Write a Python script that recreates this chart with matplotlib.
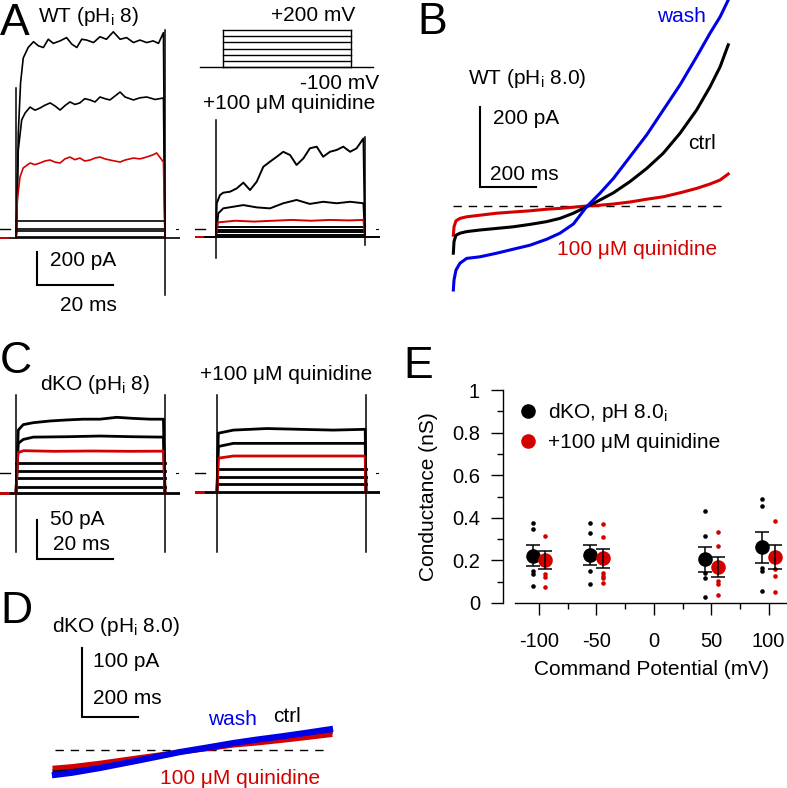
import matplotlib
matplotlib.use('Agg')
import matplotlib.pyplot as plt
from matplotlib.lines import Line2D
from matplotlib.ticker import FixedLocator, FixedFormatter, MultipleLocator

plt.rcParams['font.family'] = ['Liberation Sans', 'DejaVu Sans']
plt.rcParams['mathtext.fontset'] = 'custom'
plt.rcParams['mathtext.rm'] = 'Liberation Sans'
plt.rcParams['mathtext.it'] = 'Liberation Sans'
plt.rcParams['mathtext.default'] = 'regular'
plt.rcParams['axes.unicode_minus'] = False

W, H = 787, 788
RED = '#d40000'
BLUE = '#0000e6'
FS = 15

# ===========================
# data (ms, pA)
# ===========================
# A, WT control, step family
A1_top_t = [0.2, 0.6, 1.2, 1.9, 3.2, 4.6, 5.9, 7.2, 8.5, 9.8, 11.6, 13.3, 14.7, 16.0,
            17.3, 18.6, 20.4, 22.1, 23.8, 25.6, 27.4, 29.1, 30.9, 32.6, 34.4, 36.1, 37.5, 38.8]
A1_top_i = [-24, 580, 885, 1036, 1100, 1135, 1110, 1100, 1150, 1125, 1140, 1160, 1120, 1100,
            1150, 1145, 1130, 1165, 1150, 1195, 1150, 1160, 1130, 1145, 1130, 1140, 1125, 1190]
A1_mid_t = [0.6, 1.5, 2.4, 3.7, 5.0, 6.3, 7.6, 9.0, 10.3, 11.6, 12.9, 14.2, 15.5, 16.8,
            18.1, 19.5, 20.8, 22.1, 23.4, 24.7, 26.0, 27.4, 28.7, 30.9, 32.6, 34.4, 36.6, 38.8]
A1_mid_i = [479, 661, 703, 739, 720, 733, 750, 764, 745, 721, 748, 770, 755, 764,
            790, 782, 770, 800, 790, 782, 805, 830, 800, 782, 795, 800, 785, 794]
A1_red_t = [0.35, 1.05, 1.9, 3.7, 5.0, 6.3, 7.6, 8.95, 10.3, 11.6, 12.9, 14.2, 15.5, 16.8,
            18.1, 19.5, 20.8, 22.1, 23.4, 24.7, 26.0, 27.4, 28.7, 30.9, 32.6, 34.4, 36.1, 37.0, 38.8]
A1_red_i = [176, 315, 370, 400, 390, 400, 412, 418, 405, 400, 425, 436, 420, 430,
            412, 418, 430, 436, 425, 418, 412, 406, 418, 430, 425, 436, 450, 461, 406]
A1_low = [48, -2, -10, -50]
A1_hold = -55
A1_cap_on = [-55, 855]
A1_cap_off = [-400, 1206]

# A, WT + quinidine
A2_top_t = [0.2, 1.05, 1.9, 3.7, 5.45, 7.2, 8.95, 10.7, 12.45, 14.2, 16.0, 17.7, 19.5, 21.2,
            23.0, 24.7, 26.5, 28.2, 30.0, 31.75, 33.5, 35.3, 37.0, 38.8]
A2_top_i = [156, 206, 220, 226, 246, 281, 236, 286, 377, 408, 438, 468, 448, 388,
            428, 489, 499, 438, 468, 479, 499, 468, 489, 549]
A2_mid_t = [0.6, 1.9, 4.55, 7.2, 10.7, 14.2, 17.7, 21.2, 24.7, 28.2, 31.75, 35.3, 38.8]
A2_mid_i = [95, 125, 135, 145, 131, 125, 156, 176, 152, 165, 156, 165, 156]
A2_red_t = [0.5, 5, 10, 15, 20, 25, 30, 35, 38.8]
A2_red_i = [40, 50, 45, 50, 55, 50, 55, 52, 55]
A2_low = [12, -6, -18, -36]
A2_hold = -47
A2_cap_on = [-176, 660]
A2_cap_off = [-97, 558]

STEP_END = 39.2

# voltage protocol (mV)
P_levels = [-100, -50, 0, 50, 100, 150, 200]
P_hold = -100
P_on, P_off = 0, 40

# B, WT ramp (1 s)
B_t = [1.2, 3.6, 10.7, 25, 48.8, 96.4, 156, 215, 275, 335, 382, 430, 477, 525,
       573, 632, 692, 751, 811, 870, 918, 954, 983]
B_wash = [-210, -185, -160, -143, -131, -127, -118, -108, -98, -83, -68, -45, -2, 32,
          69, 123, 178, 240, 303, 373, 432, 473, 515]
B_ctrl = [-118, -89, -73, -68, -64, -60, -56, -52, -46, -39, -31, -18, -2, 15,
          33, 61, 94, 132, 182, 240, 298, 348, 403]
B_quin = [-73, -52, -37, -31, -27, -23, -18, -15, -12, -8, -6, -3, 0, 2,
          5, 10, 17, 23, 33, 44, 55, 65, 80]

# C, dKO step family
C1_top_t = [0.6, 1.9, 4.55, 8.95, 13.3, 17.7, 22.1, 26.5, 30.9, 35.3, 38.8]
C1_top_i = [55, 62, 64.5, 66.7, 68, 69, 69, 71.4, 70, 69, 69]
C1_mid_t = [0.6, 1.9, 4.55, 13.3, 22.1, 30.9, 38.8]
C1_mid_i = [38, 43, 46, 46.5, 47.4, 46.5, 46]
C1_red_t = [0.5, 2, 10, 20, 30, 38.8]
C1_red_i = [26, 28.6, 27.8, 28.2, 27.8, 28]
C1_low = [13, 3, -7, -17.5]
C1_hold = -26
C1_cap = [-101, 100]

C2_top_t = [0.35, 4.3, 13.1, 21.8, 30.6, 39.0]
C2_top_i = [51, 55, 57, 56, 55, 56]
C2_mid_t = [0.35, 4.3, 21.8, 39.0]
C2_mid_i = [34, 38, 38, 38]
C2_red_t = [0.35, 4.3, 21.8, 39.0]
C2_red_i = [19, 21.8, 21.8, 21.8]
C2_low = [4.7, -4.7, -14]
C2_hold = -24
C2_cap = [-101, 100]

# D, dKO ramp
D_t = [0, 60, 161, 300, 446, 550, 636, 720, 814, 900, 982]
D_wash = [-36, -33, -26, -15, -3, 4, 10, 15, 20, 25, 30]
D_ctrl = [-31, -28, -22, -13, -3, 3, 8, 12, 17, 21, 26]
D_quin = [-26, -24, -19, -11, -3, 2, 7, 10, 14, 18, 22]

# E, conductance (nS)
E_v = [-100, -50, 50, 100]
E_ctrl_mean = [0.221, 0.225, 0.206, 0.261]
E_ctrl_sem = [0.049, 0.046, 0.059, 0.071]
E_quin_mean = [0.202, 0.210, 0.167, 0.217]
E_quin_sem = [0.043, 0.045, 0.047, 0.057]
E_ctrl_cells = [[0.374, 0.347, 0.152, 0.135, 0.080],
                [0.374, 0.327, 0.150, 0.089],
                [0.433, 0.315, 0.139, 0.117, 0.027],
                [0.487, 0.457, 0.163, 0.150, 0.056]]
E_quin_cells = [[0.315, 0.136, 0.124, 0.074],
                [0.369, 0.308, 0.142, 0.128, 0.116, 0.092],
                [0.332, 0.268, 0.103, 0.089, 0.038],
                [0.385, 0.158, 0.128, 0.053]]
E_xticks = [-100, -50, 0, 50, 100]
E_yticks = [0, 0.2, 0.4, 0.6, 0.8, 1]
E_ylabels = ['0', '0.2', '0.4', '0.6', '0.8', '1']


fig = plt.figure(figsize=(W / 100, H / 100), dpi=100)


def px_axes(box, origin, sx, sy):
    # box in figure pixels (left, top, right, bottom); origin = pixel of (0, 0)
    l, t, r, b = box
    ax = fig.add_axes([l / W, 1 - b / H, (r - l) / W, (b - t) / H])
    ax.set_xlim((l - origin[0]) / sx, (r - origin[0]) / sx)
    ax.set_ylim((origin[1] - b) / sy, (origin[1] - t) / sy)
    ax.axis('off')
    return ax


def label(x, y, s, size=FS, **kw):
    # y = middle of the capital letters, in pixels from the top
    base = y + 0.358 * size * 100 / 72
    fig.text(x / W, 1 - base / H, s, fontsize=size, va='baseline', **kw)


def scale_bar(ax, t0, i0, dt, di):
    ax.plot([t0, t0, t0 + dt], [i0 + di, i0, i0], color='k', lw=1.5,
            solid_joinstyle='miter', clip_on=False)


def step_family(ax, tops, reds, low, hold, cap_on, cap_off, lw):
    t_lo, t_hi = ax.get_xlim()
    ax.plot([t_lo, t_hi], [hold, hold], color='k', lw=lw)
    ax.plot([t_lo, t_lo + 2.2], [hold, hold], color=RED, lw=lw)
    ax.plot([t_lo, t_lo + 2.6], [0, 0], color='k', lw=1)
    ax.plot([t_hi - 1.0, t_hi - 0.6], [0, 0], color='k', lw=0.8)
    for lev in low:
        ax.plot([0, STEP_END], [lev, lev], color='k', lw=lw)
    for t, i in tops:
        ax.plot([0] + t + [STEP_END], [hold] + i + [hold], color='k', lw=lw)
    for t, i in reds:
        ax.plot([0] + t + [STEP_END], [hold] + i + [hold], color=RED, lw=lw)
    ax.plot([0, 0], cap_on, color='k', lw=1.1)
    ax.plot([STEP_END, STEP_END], cap_off, color='k', lw=1.1)


# ===========================
# A
# ===========================
axA1 = px_axes((0, 0, 180, 300), (16, 229), 3.8, 0.165)
step_family(axA1, [(A1_top_t, A1_top_i), (A1_mid_t, A1_mid_i)], [(A1_red_t, A1_red_i)],
            A1_low, A1_hold, A1_cap_on, A1_cap_off, 1.2)
scale_bar(axA1, 5.5, -339, 20, 200)

axA2 = px_axes((195, 100, 380, 300), (216, 229), 3.8, 0.165)
step_family(axA2, [(A2_top_t, A2_top_i), (A2_mid_t, A2_mid_i)], [(A2_red_t, A2_red_i)],
            A2_low, A2_hold, A2_cap_on, A2_cap_off, 1.4)

axP = px_axes((195, 20, 380, 75), (223, 54.7), 3.2, 0.1233)
axP.plot([-7.2, 47], [P_hold, P_hold], color='k', lw=1)
for v in P_levels:
    axP.plot([P_on, P_off], [v, v], color='k', lw=1)
axP.plot([P_on, P_on], [P_hold, max(P_levels)], color='k', lw=1)
axP.plot([P_off, P_off], [P_hold, max(P_levels)], color='k', lw=1)

label(0, 19, 'A', size=32)
label(38, 15, 'WT (pH$_{i}$ 8)')
label(355, 14, '+200 mV', ha='right')
label(300, 82, '-100 mV')
label(203, 102, '+100 μM quinidine')
label(50, 259, '200 pA')
label(60, 304, '20 ms')

# ===========================
# B
# ===========================
axB = px_axes((440, 0, 740, 300), (453, 206), 0.28, 0.4)
axB.plot([0, 982], [0, 0], color='k', lw=1, ls=(0, (6, 5)))
axB.plot(B_t, B_quin, color=RED, lw=2.2)
axB.plot(B_t, B_ctrl, color='k', lw=2.2)
axB.plot(B_t, B_wash, color=BLUE, lw=2.2)
scale_bar(axB, 96.4, 47.5, 200, 200)

label(417, 18, 'B', size=32)
label(468, 77, 'WT (pH$_{i}$ 8.0)')
label(493, 117, '200 pA')
label(490, 173, '200 ms')
label(657, 15, 'wash', color=BLUE)
label(688, 142, 'ctrl')
label(557, 248, '100 μM quinidine', color=RED)

# ===========================
# C
# ===========================
axC1 = px_axes((0, 380, 180, 570), (16, 473), 3.8, 0.78)
step_family(axC1, [(C1_top_t, C1_top_i), (C1_mid_t, C1_mid_i)], [(C1_red_t, C1_red_i)],
            C1_low, C1_hold, C1_cap, C1_cap, 2.0)
scale_bar(axC1, 5.5, -110, 20, 50)

axC2 = px_axes((195, 380, 380, 570), (217, 473), 3.8, 0.78)
step_family(axC2, [(C2_top_t, C2_top_i), (C2_mid_t, C2_mid_i)], [(C2_red_t, C2_red_i)],
            C2_low, C2_hold, C2_cap, C2_cap, 2.0)

label(0, 357, 'C', size=32)
label(40, 383, 'dKO (pH$_{i}$ 8)')
label(200, 373, '+100 μM quinidine')
label(50, 518, '50 pA')
label(53, 543, '20 ms')

# ===========================
# D
# ===========================
axD = px_axes((40, 630, 345, 788), (55, 750), 0.28, 0.69)
axD.plot([0, 982], [0, 0], color='k', lw=1, ls=(0, (6, 5)))
axD.plot(D_t, D_ctrl, color='k', lw=3.5)
axD.plot(D_t, D_quin, color=RED, lw=3.5)
axD.plot(D_t, D_wash, color=BLUE, lw=4.5)
scale_bar(axD, 96.4, 47.8, 200, 100)

label(0, 607, 'D', size=32)
label(52, 625, 'dKO (pH$_{i}$ 8.0)')
label(93, 660, '100 pA')
label(93, 697, '200 ms')
label(208, 718, 'wash', color=BLUE)
label(273, 715, 'ctrl')
label(160, 777, '100 μM quinidine', color=RED)

# ===========================
# E
# ===========================
axE = fig.add_axes([515 / W, 1 - 603 / H, 272 / W, 213 / H])
axE.set_xlim(-121, 116)
axE.set_ylim(0, 1)
off = 5.5
for k, v in enumerate(E_v):
    axE.plot([v - off] * len(E_ctrl_cells[k]), E_ctrl_cells[k], 'o', color='k',
             ms=3.3, mew=0, zorder=2)
    axE.plot([v + off] * len(E_quin_cells[k]), E_quin_cells[k], 'o', color=RED,
             ms=3.3, mew=0, zorder=2)
axE.plot([v - off for v in E_v], E_ctrl_mean, 'o', color='k', ms=10.5, mew=0, zorder=3)
axE.plot([v + off for v in E_v], E_quin_mean, 'o', color=RED, ms=10.5, mew=0, zorder=3)
axE.errorbar([v - off for v in E_v], E_ctrl_mean, yerr=E_ctrl_sem, fmt='none',
             ecolor='k', elinewidth=1.1, capsize=5, capthick=1.1, zorder=4)
axE.errorbar([v + off for v in E_v], E_quin_mean, yerr=E_quin_sem, fmt='none',
             ecolor='k', elinewidth=1.1, capsize=5, capthick=1.1, zorder=4)

for s in ['top', 'right']:
    axE.spines[s].set_visible(False)
axE.spines['left'].set_position(('outward', 8.6))
for s in ['left', 'bottom']:
    axE.spines[s].set_linewidth(1.0)
axE.xaxis.set_major_locator(FixedLocator(E_xticks))
axE.xaxis.set_minor_locator(FixedLocator([-75, -25, 25, 75]))
axE.yaxis.set_major_locator(FixedLocator(E_yticks))
axE.yaxis.set_major_formatter(FixedFormatter(E_ylabels))
axE.yaxis.set_minor_locator(MultipleLocator(0.1))
axE.tick_params(which='major', length=8.6, width=1.0, labelsize=14.5)
axE.tick_params(which='minor', length=4.3, width=1.0)
axE.tick_params(axis='x', which='major', pad=12.5)
axE.tick_params(axis='y', which='major', pad=8)
axE.set_xlabel('Command Potential (mV)', fontsize=FS)
axE.set_ylabel('Conductance (nS)', fontsize=FS, va='center')
axE.yaxis.set_label_coords((428 - 515) / 272, 0.5)
axE.xaxis.set_label_coords((651 - 515) / 272, (603 - 660) / 213)

handles = [Line2D([], [], marker='o', ls='none', color='k', ms=10.5, mew=0),
           Line2D([], [], marker='o', ls='none', color=RED, ms=10.5, mew=0)]
axE.legend(handles, ['dKO, pH 8.0$_{i}$', '+100 μM quinidine'], loc='upper left',
           bbox_to_anchor=(517.6 / W, 1 - 401 / H), bbox_transform=fig.transFigure,
           frameon=False, fontsize=FS, handlelength=1.0, handletextpad=0.46,
           borderpad=0, borderaxespad=0, labelspacing=0.45)

label(403, 362, 'E', size=32)

fig.savefig('out.png', dpi=100)
